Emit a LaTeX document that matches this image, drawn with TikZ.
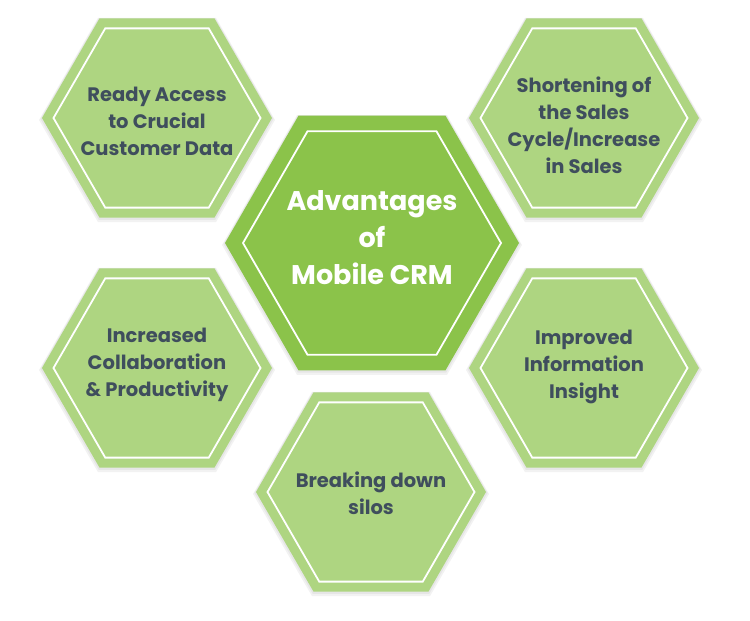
\documentclass[tikz,border=0pt]{standalone}
\usepackage{fontspec}
\setmainfont{Poppins}
\usetikzlibrary{shapes.geometric}
\definecolor{hexlight}{HTML}{AED581}
\definecolor{hexdark}{HTML}{8BC34A}
\definecolor{hextext}{HTML}{3F4E5D}
\begin{document}
\begin{tikzpicture}[x=1pt,y=-1pt,
    hex/.style={regular polygon,regular polygon sides=6,inner sep=0pt,minimum size=#1},
    halo/.style={hex=#1,fill=black,opacity=.05},
    rim/.style={hex=#1,draw=white,line width=1.8pt},
    smalltxt/.style={text=hextext,font=\fontsize{19.5}{27}\selectfont\bfseries,align=center},
    bigtxt/.style={text=white,font=\fontsize{27}{37}\selectfont\bfseries,align=center}]
  \useasboundingbox (0,0) rectangle (750,621);
  % outer ring of benefits
  \foreach \n/\x/\y/\dy/\t in {access/157/118/3/{Ready Access\\to Crucial\\Customer Data},
      sales/584/118/7/{Shortening of\\the Sales\\Cycle/Increase\\in Sales},
      collab/157/368/-3/{Increased\\Collaboration\\\& Productivity},
      insight/584/368/-1/{Improved\\Information\\Insight},
      silos/371/492/1/{Breaking down\\silos}}{
    \node[halo=236] at (\x,\y+2) {};
    \node[halo=233] at (\x,\y+1) {};
    \node[hex=230,fill=hexlight] (\n) at (\x,\y) {};
    \node[rim=207] (\n-rim) at (\n.center) {};
    \node[smalltxt] (\n-txt) at (\x,\y+\dy) {\t};
  }
  % centre
  \node[halo=300] at (372,245) {};
  \node[halo=297] at (372,244) {};
  \node[hex=294,fill=hexdark] (crm) at (372,243) {};
  \node[rim=258] (crm-rim) at (crm.center) {};
  \node[bigtxt] (crm-txt) at (372,238) {Advantages\\of\\Mobile CRM};
\end{tikzpicture}
\end{document}
